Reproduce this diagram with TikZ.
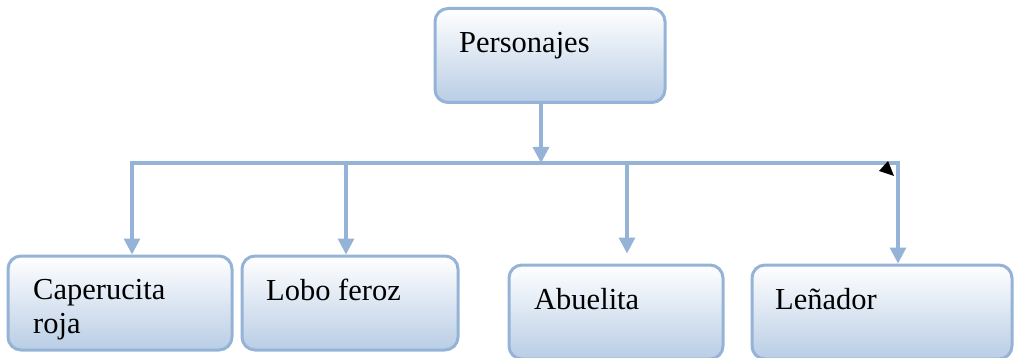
\documentclass[tikz,border=0pt]{standalone}
\usepackage{fontspec}
\setmainfont{Liberation Serif}
\usetikzlibrary{arrows.meta}
\definecolor{azulborde}{HTML}{95B3D7}
\definecolor{azulfondo}{HTML}{B9CDE5}
\begin{document}
\begin{tikzpicture}[x=1pt,y=-1pt,
    caja/.style={draw=azulborde, line width=3pt, rounded corners=13pt,
      top color=white, bottom color=azulfondo, inner sep=0pt, minimum height=94pt},
    texto/.style={anchor=base west, inner sep=0pt, align=left,
      font=\fontsize{30.5}{34}\selectfont},
    flecha/.style={draw=azulborde, line width=3.2pt,
      -{Triangle[width=16pt,length=16pt]}}]
  \useasboundingbox (0,0) rectangle (1019,358);

  % Cajas
  \node[caja, minimum width=230pt] (pers) at (550,55.5) {};
  \node[caja, minimum width=224pt] (cap)  at (120,303) {};
  \node[caja, minimum width=216pt] (lobo) at (350,303) {};
  \node[caja, minimum width=214pt] (abu)  at (616,312) {};
  \node[caja, minimum width=260pt] (len)  at (882,312) {};

  % Textos (en varias lineas la base es la de la ultima)
  \node[texto] (tpers) at (459,53)  {Personajes};
  \node[texto] (tcap)  at (33,333)  {Caperucita\\roja};
  \node[texto] (tlobo) at (266,300) {Lobo feroz};
  \node[texto] (tabu)  at (534,309) {Abuelita};
  \node[texto] (tlen)  at (775,309) {Leñador};

  % Barra y ramas
  \coordinate (barra) at (541,163);
  \coordinate (r1) at (132,163);
  \coordinate (r2) at (346,163);
  \coordinate (r3) at (627,163);
  \coordinate (r4) at (898,163);
  \draw[flecha] (pers.south -| barra) -- (barra);
  \draw[flecha] (barra) -- (r1) -- (r1 |- cap.north);
  \draw[flecha] (barra) -- (r4) -- (r4 |- len.north);
  \draw[flecha] (r2) -- (r2 |- lobo.north);
  \draw[flecha, shorten >=10pt] (r3) -- (r3 |- abu.north);

  % Punta negra junto a la esquina
  \fill (888,161) -- (879,171) -- (894,176) -- cycle;
\end{tikzpicture}
\end{document}
